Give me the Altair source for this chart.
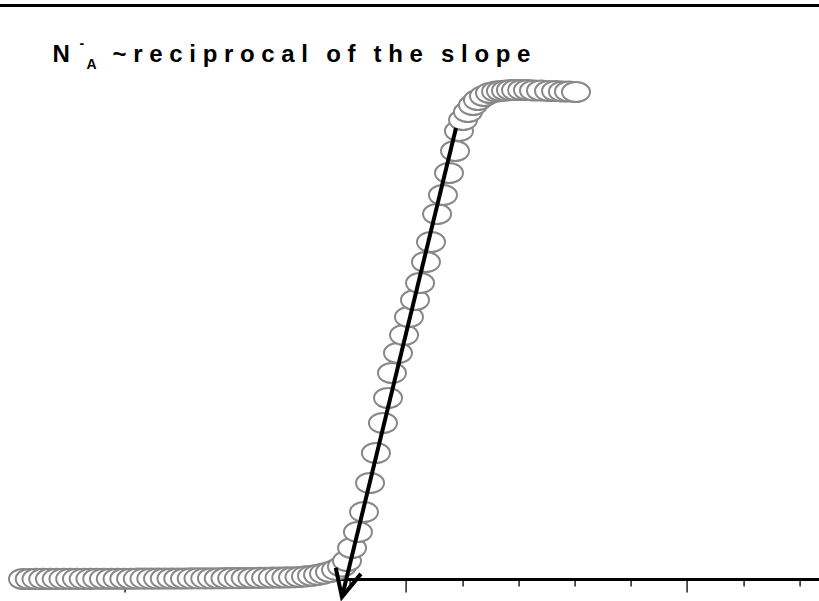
import altair as alt
import pandas as pd

# Capacitance-voltage sweep: bias (V) and 1/C^2 (arbitrary units)
bias = [
    -2.726, -2.678, -2.630, -2.582, -2.534, -2.486, -2.438, -2.390, -2.342, -2.294,
    -2.246, -2.198, -2.150, -2.101, -2.053, -2.005, -1.957, -1.909, -1.861, -1.813,
    -1.765, -1.717, -1.669, -1.621, -1.573, -1.525, -1.477, -1.429, -1.381, -1.333,
    -1.285, -1.237, -1.189, -1.141, -1.093, -1.044, -0.996, -0.948, -0.900, -0.852,
    -0.804, -0.758, -0.712, -0.669, -0.626, -0.584, -0.541, -0.498, -0.456, -0.420,
    -0.384, -0.342, -0.299, -0.256, -0.214, -0.164, -0.128, -0.100, -0.057, -0.014,
    0.021, 0.064, 0.100, 0.142, 0.178, 0.221, 0.263, 0.306, 0.349, 0.377,
    0.406, 0.441, 0.477, 0.512, 0.555, 0.598, 0.641, 0.676, 0.712, 0.747,
    0.783, 0.826, 0.868, 0.911, 0.961, 1.018, 1.068, 1.117, 1.160, 1.210,
]
inv_c2 = [
    0.000, 0.000, 0.001, 0.001, 0.001, 0.002, 0.002, 0.002, 0.003, 0.003,
    0.003, 0.004, 0.004, 0.004, 0.005, 0.005, 0.005, 0.006, 0.006, 0.007,
    0.007, 0.008, 0.008, 0.009, 0.009, 0.010, 0.011, 0.011, 0.012, 0.013,
    0.014, 0.015, 0.016, 0.017, 0.018, 0.020, 0.021, 0.023, 0.025, 0.027,
    0.030, 0.035, 0.045, 0.057, 0.073, 0.094, 0.122, 0.160, 0.218, 0.314,
    0.540, 0.819, 1.167, 1.672, 2.195, 2.718, 3.153, 3.589, 3.937, 4.251,
    4.564, 4.861, 5.157, 5.523, 5.871, 6.359, 6.690, 7.073, 7.456, 7.805,
    7.997, 8.136, 8.258, 8.345, 8.415, 8.467, 8.493, 8.502, 8.511, 8.519,
    8.519, 8.519, 8.519, 8.511, 8.511, 8.502, 8.502, 8.493, 8.493, 8.484,
]

# Linear fit of the depletion region, extended down to the bias axis
fit_bias = [0.356, -0.456]
fit_inv_c2 = [7.857, -0.314]

# Bias axis ticks: majors every 1 V, minors every 0.2 V
tick_values = [
    -2.8, -2.6, -2.4, -2.2, -2.0, -1.8, -1.6, -1.4, -1.2, -1.0,
    -0.8, -0.6, -0.4, -0.2, 0.0, 0.2, 0.4, 0.6, 0.8, 1.0,
    1.2, 1.4, 1.6, 1.8, 2.0, 2.2, 2.4, 2.6, 2.8,
]

ELLIPSE = "M-1,0A1,0.72,0,1,1,1,0A1,0.72,0,1,1,-1,0Z"
ARROW_V = "M-0.48,-1L0,0L0.48,-1"
FONT = "Liberation Sans"

x_scale = alt.Scale(domain=[-2.8, 2.9395], nice=False, zero=False)
y_scale = alt.Scale(domain=[0, 10], nice=False, zero=False)

x_axis = alt.Axis(
    values=tick_values,
    labels=False,
    title=None,
    grid=False,
    domainColor="black",
    domainWidth=3,
    tickColor="#222222",
    tickWidth=1.5,
    tickSize={
        "condition": {"test": "abs(datum.value - round(datum.value)) < 0.01", "value": 13},
        "value": 7,
    },
)

data = pd.DataFrame({"bias": bias, "inv_c2": inv_c2})
fit = pd.DataFrame({"bias": fit_bias, "inv_c2": fit_inv_c2})
tip = fit.iloc[[1]]
one = pd.DataFrame({"k": [0]})

points = alt.Chart(data).mark_point(
    shape=ELLIPSE, size=784, filled=True, fill="white",
    stroke="#888888", strokeWidth=2, opacity=1,
).encode(
    x=alt.X("bias:Q", scale=x_scale, axis=x_axis),
    y=alt.Y("inv_c2:Q", scale=y_scale, axis=None),
)

fit_line = alt.Chart(fit).mark_line(
    color="black", strokeWidth=4, strokeCap="butt",
).encode(
    x=alt.X("bias:Q", scale=x_scale),
    y=alt.Y("inv_c2:Q", scale=y_scale),
)

arrow_head = alt.Chart(tip).mark_point(
    shape=ARROW_V, size=2916, angle=13.7, filled=False,
    stroke="black", strokeWidth=4, opacity=1, strokeJoin="miter",
).encode(
    x=alt.X("bias:Q", scale=x_scale),
    y=alt.Y("inv_c2:Q", scale=y_scale),
)

top_rule = alt.Chart(one).mark_rule(color="black", strokeWidth=3).encode(
    x=alt.value(-13), x2=alt.value(807), y=alt.value(0.5),
)


def label(text, x, y, size):
    return alt.Chart(one).mark_text(
        text=text, font=FONT, fontSize=size, fontWeight="bold",
        color="black", align="left", baseline="alphabetic",
    ).encode(x=alt.value(x), y=alt.value(y))


gap = "\u00a0\u00a0\u2009"
slope_text = (
    "~ r e c i p r o c a l" + gap + "o f" + gap + "t h e" + gap + "s l o p e"
)

chart = alt.layer(
    top_rule,
    points,
    fit_line,
    arrow_head,
    label("N", 40, 57, 24),
    label("-", 67, 43, 14),
    label("A", 74, 64, 14),
    label(slope_text, 100, 57, 24),
).properties(
    width=806.4,
    height=574,
    padding={"left": 12.6, "right": 0, "top": 5, "bottom": 22},
    autosize=alt.AutoSizeParams(type="none"),
).configure_view(stroke=None)

chart.save("out.html", embed_options={"renderer": "svg", "actions": False})
